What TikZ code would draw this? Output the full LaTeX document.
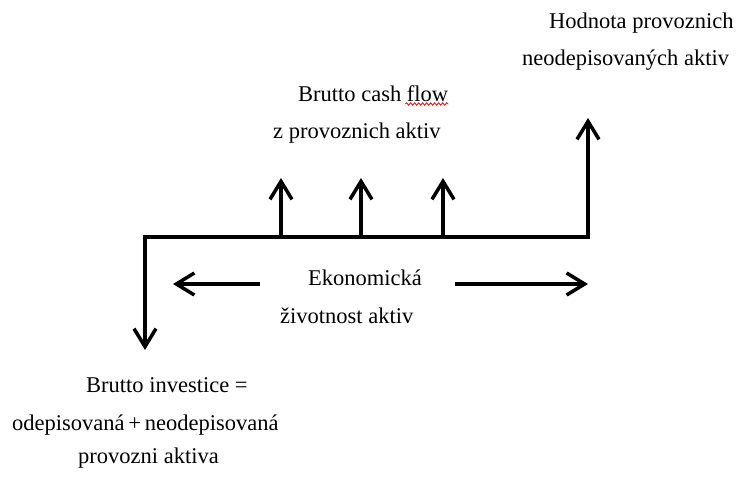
\documentclass[tikz,border=0pt]{standalone}
\usepackage{fontspec}
\setmainfont{Liberation Serif}
\newfontfamily\labelfont{Liberation Serif}
\usetikzlibrary{arrows.meta,decorations.pathmorphing}
\tikzset{
  flow/.style={line width=3.5pt,-{Straight Barb[length=18pt,width=22pt]}},
  lbl/.style={anchor=base west,inner sep=0pt,font=\labelfont\fontsize{22.5}{27}\selectfont},
}
\begin{document}
\begin{tikzpicture}[x=1pt,y=-1pt]
      \useasboundingbox (0,0) rectangle (740,479);
      % time line
      \coordinate (t0) at (145,237);
      \coordinate (tN) at (588,237);
      \coordinate (invtip) at (145,350);
      \coordinate (restip) at (588,118);
      \draw[flow,{Straight Barb[length=18pt,width=22pt]}-{Straight Barb[length=18pt,width=22pt]},line join=miter] (invtip) -- (t0) -- (tN) -- (restip);
      % cash flows
      \foreach \n/\x in {c1/281,c2/361,c3/443} {
        \coordinate (\n base) at (\x,237);
        \coordinate (\n tip) at (\x,178);
        \draw[flow] (\n base) -- (\n tip);
      }
      % labels
      \node[lbl] (res1) at (549,28) {Hodnota provoznich};
      \node[lbl] (res2) at (522,65) {neodepisovaných aktiv};
      \node[lbl] (cf1) at (298,101) {Brutto cash flow};
      \node[lbl] (cf2) at (273,138) {z provoznich aktiv};
      \node[lbl] (life1) at (308,285) {Ekonomická};
      \node[lbl] (life2) at (280,323) {životnost aktiv};
      \node[lbl] (inv1) at (86,392) {Brutto investice =};
      \node[lbl] (inv2) at (12,430) {odepisovaná\,+\,neodepisovaná};
      \node[lbl] (inv3) at (78,463) {provozni aktiva};
      \draw[red,line width=0.8pt,decorate,decoration={snake,amplitude=1.2pt,segment length=4pt}] (cf1.base east) ++(-43,3) -- ++(43,0);
      % economic life
      \coordinate (lifeL) at (260,284);
      \coordinate (lifeLtip) at (173,284);
      \coordinate (lifeR) at (455,284);
      \coordinate (lifeRtip) at (588,284);
      \draw[flow] (lifeL) -- (lifeLtip);
      \draw[flow] (lifeR) -- (lifeRtip);
\end{tikzpicture}
\end{document}
